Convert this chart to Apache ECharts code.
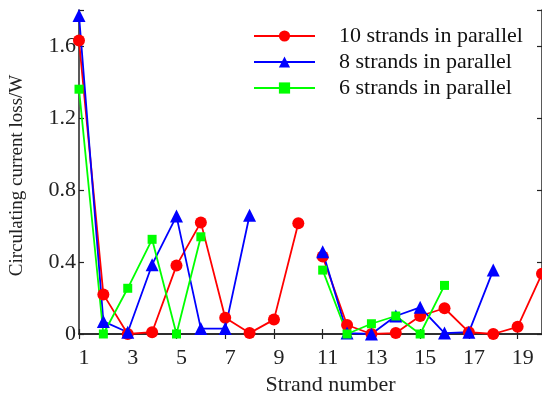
<!DOCTYPE html>
<html>
<head>
<meta charset="utf-8">
<script src="https://cdn.jsdelivr.net/npm/echarts@6/dist/echarts.min.js"></script>
<style>
  html, body { margin: 0; padding: 0; background: #fff; }
  #chart { width: 542px; height: 403px; }
</style>
</head>
<body>
<div id="chart"></div>
<script>
// 股线编号
const strandNumbers = ['1', '2', '3', '4', '5', '6', '7', '8', '9', '10',
  '11', '12', '13', '14', '15', '16', '17', '18', '19', '20'];
// 环流损耗 (W)
const loss10 = [1.63, 0.22, 0.0, 0.01, 0.38, 0.62, 0.09, 0.005, 0.08, 0.615,
  0.43, 0.05, 0.0, 0.005, 0.10, 0.143, 0.01, 0.0, 0.04, 0.335];
const loss8 = [1.77, 0.07, 0.01, 0.385, 0.655, 0.03, 0.03, 0.66, null, null,
  0.457, 0.005, 0.0, 0.10, 0.148, 0.005, 0.01, 0.355, null, null];
const loss6 = [1.36, 0.0, 0.254, 0.526, 0.0, 0.54, null, null, null, null,
  0.355, 0.0, 0.057, 0.10, 0.0, 0.27, null, null, null, null];
// 每组并联的起止编号
const groups10 = [[1, 10], [11, 20]];
const groups8 = [[1, 8], [11, 18]];
const groups6 = [[1, 6], [11, 16]];
const yTicks = [0, 0.4, 0.8, 1.2, 1.6];

const serif = 'Liberation Serif';
const ink = '#222';

function part(values, from, to) {
  return values.map((v, i) => (i + 1 >= from && i + 1 <= to ? v : null));
}

function makeSeries(name, values, groups, color, symbol, size) {
  return groups.map(([from, to]) => ({
    name,
    type: 'line',
    data: part(values, from, to),
    symbol,
    symbolSize: size,
    connectNulls: false,
    lineStyle: { color, width: 1.8 },
    itemStyle: { color },
    animation: false
  }));
}

const frameLine = { show: true, lineStyle: { color: ink, width: 1.5 } };
const frameTick = { show: true, inside: true, length: 5, lineStyle: { color: ink, width: 1.2 } };

const chart = echarts.init(document.getElementById('chart'));
chart.setOption({
  backgroundColor: '#fff',
  grid: { left: 79, right: -2, top: 10, bottom: 69 },
  legend: {
    orient: 'vertical',
    left: 248,
    top: 20,
    itemWidth: 61,
    itemHeight: 14,
    itemGap: 4,
    textStyle: { fontFamily: serif, fontSize: 22, color: '#111', padding: [0, 0, 0, 19] },
    data: ['10 strands in parallel', '8 strands in parallel', '6 strands in parallel']
  },
  xAxis: [
    {
      type: 'category',
      data: strandNumbers,
      boundaryGap: false,
      position: 'bottom',
      axisLine: frameLine,
      axisTick: { ...frameTick, interval: 1 },
      axisLabel: { interval: 1, margin: 13, fontFamily: serif, fontSize: 22, color: ink, padding: [0, 0, 0, 10] },
      name: 'Strand number',
      nameLocation: 'middle',
      nameGap: 39,
      nameTextStyle: { fontFamily: serif, fontSize: 22, color: ink, padding: [0, 0, 0, 40] }
    },
    {
      type: 'category',
      data: strandNumbers,
      boundaryGap: false,
      position: 'top',
      axisLine: frameLine,
      axisTick: { ...frameTick, interval: 1 },
      axisLabel: { show: false }
    }
  ],
  yAxis: [
    {
      type: 'value',
      min: 0,
      max: 1.8,
      interval: 0.4,
      axisLine: frameLine,
      axisTick: frameTick,
      splitLine: { show: false },
      axisLabel: {
        margin: 3, fontFamily: serif, fontSize: 22, color: ink,
        formatter: v => (yTicks.includes(Math.round(v * 10) / 10) ? String(Math.round(v * 10) / 10) : '')
      },
      name: 'Circulating current loss/W',
      nameLocation: 'middle',
      nameGap: 52,
      nameTextStyle: { fontFamily: serif, fontSize: 19, color: ink, padding: [0, 7, 0, 0] }
    },
    {
      type: 'value',
      position: 'right',
      min: 0,
      max: 1.8,
      interval: 0.4,
      axisLine: frameLine,
      axisTick: frameTick,
      splitLine: { show: false },
      axisLabel: { show: false }
    }
  ],
  series: [
    ...makeSeries('10 strands in parallel', loss10, groups10, '#ff0000', 'circle', 12),
    ...makeSeries('8 strands in parallel', loss8, groups8, '#0000ff', 'triangle', 13),
    ...makeSeries('6 strands in parallel', loss6, groups6, '#00ff00', 'rect', 9)
  ]
});
</script>
</body>
</html>
